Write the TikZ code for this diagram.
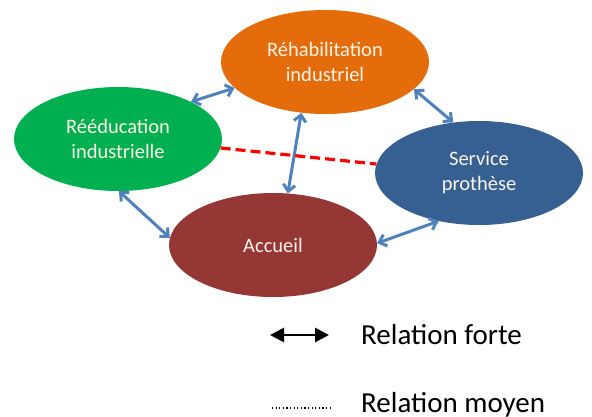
\documentclass[tikz,border=0pt]{standalone}
\usepackage{fontspec}
\setmainfont{Carlito}
\usetikzlibrary{shapes.geometric, arrows.meta, positioning}
\definecolor{rehabcol}{RGB}{228,108,10}
\definecolor{reedcol}{RGB}{0,176,80}
\definecolor{servcol}{RGB}{55,96,146}
\definecolor{accueilcol}{RGB}{149,55,53}
\definecolor{linkblue}{RGB}{79,129,189}
\definecolor{lighttext}{RGB}{250,243,230}
\tikzstyle{bubble} = [ellipse, minimum width=208pt, minimum height=104pt, inner sep=0pt, align=center, text=lighttext, font=\fontsize{20.5}{25}\selectfont]
\tikzstyle{link} = [line width=3pt, draw=linkblue, {Straight Barb[length=6.5pt,width=12pt]}-{Straight Barb[length=6.5pt,width=12pt]}]
\tikzstyle{weak} = [line width=3.2pt, draw=red, dash pattern=on 10pt off 5pt]
\tikzstyle{strong} = [line width=2.8pt, {Triangle[length=14pt,width=14pt]}-{Triangle[length=14pt,width=14pt]}]
\tikzstyle{dots} = [line width=1.2pt, dash pattern=on 1.2pt off 2.4pt]
\tikzstyle{legend} = [anchor=base west, inner sep=0pt, font=\fontsize{29}{34}\selectfont]

\begin{document}
\begin{tikzpicture}[x=1pt, y=-1pt]

    \useasboundingbox (0,0) rectangle (592,416);

    % Nodes
    \node (rehab) [bubble, fill=rehabcol] at (325,62) {Réhabilitation\\industriel};
    \node (reed) [bubble, fill=reedcol] at (118,139) {Rééducation\\industrielle};
    \node (serv) [bubble, fill=servcol] at (479,173) {Service\\prothèse};
    \node (accueil) [bubble, fill=accueilcol] at (273,245) {Accueil};

    % Strong relations
    \draw [link] (reed.27) -- (rehab.196);
    \draw [link] (rehab.-17) -- (serv.117);
    \draw [link] (rehab.245) -- (accueil.74);
    \draw [link] (reed.-89) -- (accueil.176);
    \draw [link] (serv.230) -- (accueil.1);

    % Medium relation
    \draw [weak] (reed.-5) -- (serv.175);

    % Legend
    \coordinate (fl) at (270,335);
    \coordinate (fr) at (329,335);
    \draw [strong] (fl) -- (fr);
    \node (forte) [legend] at (361,344) {Relation forte};

    \coordinate (ml) at (272,408);
    \coordinate (mr) at (330,408);
    \draw [dots] (ml) -- (mr);
    \node (moyen) [legend] at (361,412) {Relation moyen};

\end{tikzpicture}
\end{document}
